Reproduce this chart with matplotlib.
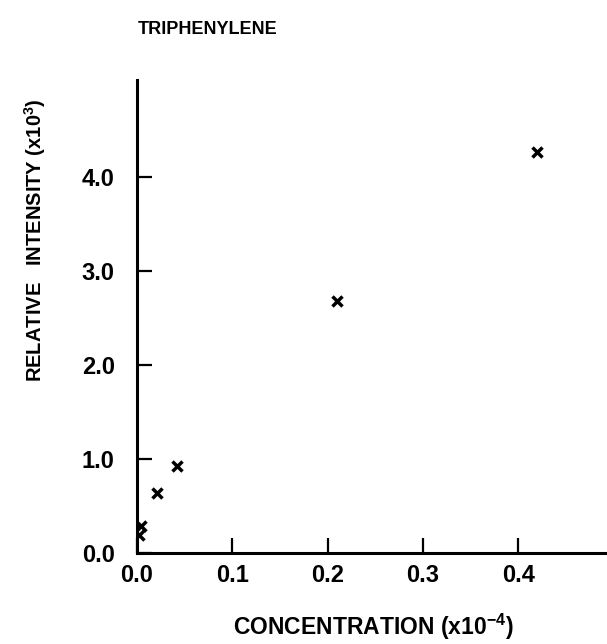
import numpy as np
import matplotlib.pyplot as plt

# triphenylene data
conc = [0.0021, 0.0042, 0.021, 0.042, 0.21, 0.42]      # x10^-4
intensity = [0.19, 0.29, 0.64, 0.93, 2.68, 4.26]       # x10^3
xticks = [0.0, 0.1, 0.2, 0.3, 0.4]
yticks = [0.0, 1.0, 2.0, 3.0, 4.0]

plt.rcParams['font.family'] = ['Liberation Sans', 'DejaVu Sans']
plt.rcParams['font.weight'] = 'bold'
plt.rcParams['mathtext.fontset'] = 'custom'
plt.rcParams['mathtext.rm'] = 'Liberation Sans:bold'
plt.rcParams['mathtext.default'] = 'rm'

fig = plt.figure(figsize=(6.07, 6.44), dpi=100)
ax = fig.add_axes([0.2257, 0.1413, 0.7743, 0.7345])

ax.plot(conc, intensity, linestyle='none', marker='x', color='k',
        markersize=7, markeredgewidth=2.5)

ax.set_xlim(0, 0.493)
ax.set_ylim(0, 5.03)
ax.set_xticks(xticks)
ax.set_xticklabels(['%.1f' % t for t in xticks])
ax.set_yticks(yticks)
ax.set_yticklabels(['%.1f' % t for t in yticks])

for s in ['top', 'right']:
    ax.spines[s].set_visible(False)
for s in ['left', 'bottom']:
    ax.spines[s].set_linewidth(2.2)

ax.tick_params(direction='in', length=11, width=1.6, labelsize=17, pad=8)
ax.tick_params(axis='y', pad=16)

fig.text(138 / 607, 1 - 30 / 644, 'TRIPHENYLENE', fontsize=13,
         ha='left', va='center')
fig.text(35 / 607, 1 - 240 / 644, 'RELATIVE   INTENSITY (x10$^3$)',
         fontsize=14.5, rotation=90, ha='center', va='center')
fig.text(373 / 607, 1 - 627 / 644, 'CONCENTRATION (x10$^{-4}$)',
         fontsize=16.5, ha='center', va='center')

fig.savefig('out.png', dpi=100)
